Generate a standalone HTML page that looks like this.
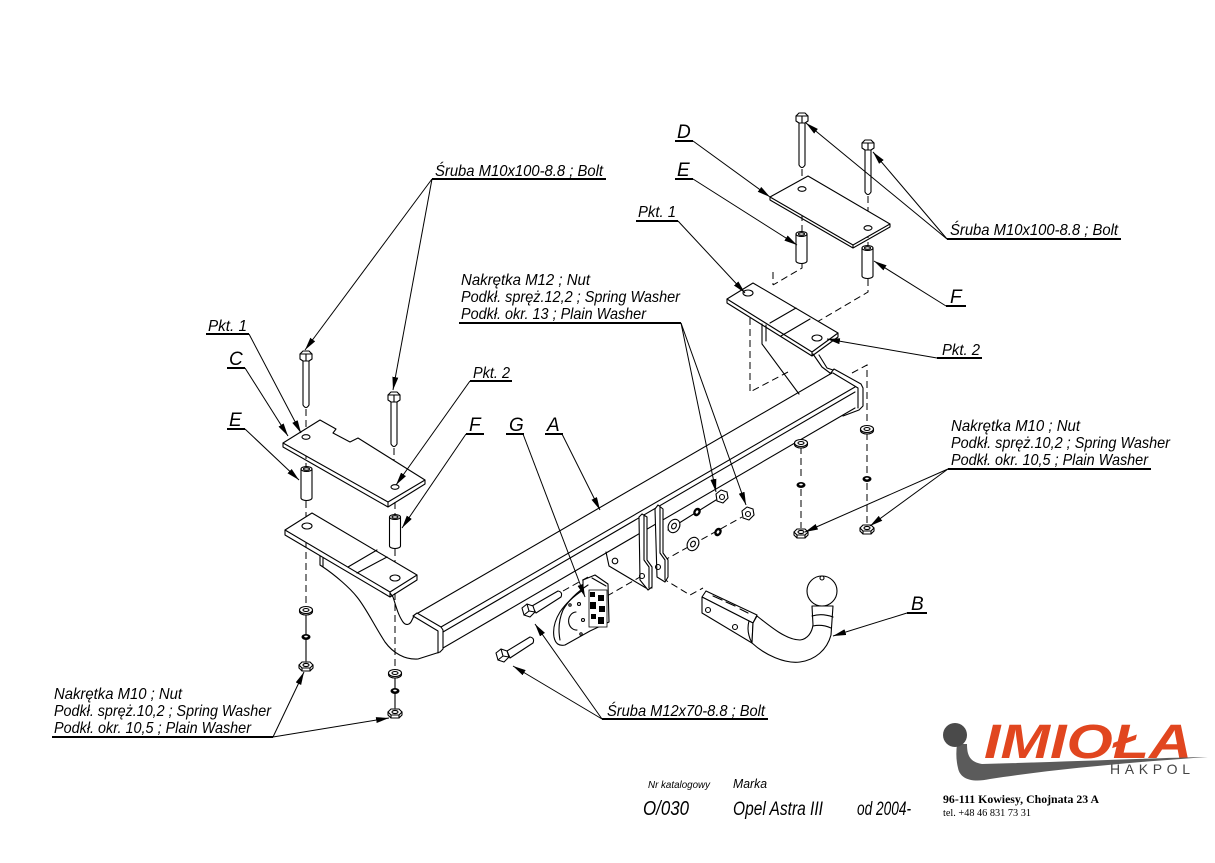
<!DOCTYPE html>
<html><head><meta charset="utf-8"><style>
html,body{margin:0;padding:0;background:#fff;}
svg{display:block;}
.t{font-family:"Liberation Sans",sans-serif;font-style:italic;fill:#000;}
.s{stroke:#000;stroke-width:1.1;fill:none;stroke-linejoin:round;stroke-linecap:round;}
.w{stroke:#000;stroke-width:1.1;fill:#fff;stroke-linejoin:round;}
.d{stroke:#000;stroke-width:1;fill:none;stroke-dasharray:7 4;}
.ld{stroke:#000;stroke-width:1;fill:none;marker-end:url(#ar);}
.ul{stroke:#000;stroke-width:2;}
.k{fill:#000;}
</style></head><body>
<svg width="1215" height="863" viewBox="0 0 1215 863" xmlns="http://www.w3.org/2000/svg">
<defs>
<marker id="ar" markerWidth="14" markerHeight="7" refX="13" refY="3" orient="auto" markerUnits="userSpaceOnUse"><path d="M0,0 L13,3 L0,6 Z" fill="#000"/></marker>
</defs>
<rect width="1215" height="863" fill="#fff"/>

<!-- dashed / axis lines -->
<path class="d" d="M306,409 V433 M306,441 V468 M306,501 V523 M306,530 V606"/>
<path class="d" d="M394,448 V485 M395,491 V516 M395,549 V575 M395,582 V669"/>
<path class="s" d="M306,613 V661 M395,677 V708"/>
<path class="d" d="M802,169 V187 M802,192 V233 M802,263 V268 L773,285 M773,272 V285"/>
<path class="d" d="M868,196 V226 M868,231 V247 M868,279 V292 L817,322 V334"/>
<path class="d" d="M750,318 V392 L788,372"/>
<path class="d" d="M852,373 L867,365 V425 M867,433 V475 M867,483 V524"/>
<path class="d" d="M801,447 V480 M801,489 V528"/>
<path class="d" d="M563,591 L588,577 M607,596 L640,577 M662,578 L690,595 L703,588 M663,561 L742,517"/>
<path class="s" d="M668,530 L716,500"/>

<!-- main beam -->
<path class="s" stroke-width="2.4" d="M418,613 L832,373"/>
<path class="s" d="M441,627 L855,387 M443,632 L855,392 M443,648 L855,408"/>
<path class="s" d="M413,616 L417,613 L441,627 L443,630 L443,649 L440,652 M413,616 L438,631 L438,653"/>
<path class="s" d="M830,374 L834,369 L861,384 L863,388 L863,406 L859,410 L843,416 M833,373 L858,388 L858,408"/>

<!-- left bracket -->
<path class="s" d="M320,556 L320,565 L323,567 M323,558 L323,567 C335,575 350,588 357,597 C366,608 374,625 385,642 C393,653 405,660 418,659 L440,652"/>
<path class="s" d="M390,593 L393,597 C396,606 398,615 403,622 C406,626 410,625 412,620 L414,616"/>
<path class="w" d="M285,530 L312,513 L417,575 L390,592 Z"/>
<path class="s" d="M285,530 L285,535 L390,597 L417,580 L417,575 M390,592 L390,597"/>
<path class="s" stroke-width="1.5" d="M348,567 L377,550 M357,573 L387,557"/>
<ellipse class="s" cx="307" cy="526" rx="5" ry="3"/>
<ellipse class="s" cx="395" cy="578" rx="5" ry="3"/>

<!-- right bracket -->
<path class="s" d="M762,324 V344 L799,394 M766,325 V341"/>
<path class="s" d="M813,354 L822,367 L830,373 M819,355 L827,368 L833,370"/>
<path class="w" d="M727,299 L753,283 L838,333 L812,352 Z"/>
<path class="s" d="M727,299 L727,303 L812,356 L838,337 L838,333 M812,352 L812,356"/>
<path class="s" stroke-width="1.5" d="M770,323 L796,308 M781,336 L810,319"/>
<ellipse class="s" cx="748" cy="293" rx="5" ry="3"/>
<ellipse class="s" cx="817" cy="338" rx="5" ry="3"/>

<!-- plate C -->
<path class="w" d="M283,443 L320,420 L336,429 L333,433 L350,442 L358,438 L425,480 L388,502 Z"/>
<path class="s" d="M283,443 L283,447 L388,507 L425,484 L425,480 M388,502 L388,507"/>
<ellipse class="s" cx="306" cy="437" rx="4" ry="2.3"/>
<ellipse class="s" cx="395" cy="487" rx="4" ry="2.3"/>

<!-- plate D -->
<path class="w" d="M770,197 L808,176 L890,224 L853,245 Z"/>
<path class="s" d="M770,197 L770,200 L853,248 L890,227 L890,224 M853,245 L853,248"/>
<ellipse class="s" cx="802" cy="189" rx="4" ry="2.3"/>
<ellipse class="s" cx="868" cy="228" rx="4" ry="2.3"/>

<!-- bolts vertical -->
<g>
<path class="w" d="M303,361 V405 Q306,410 309,405 V361"/>
<path class="w" d="M300,354 L303,351 L309,351 L312,354 L312,359 L309,361 L303,361 L300,359 Z"/>
<path class="s" d="M300,354 H312 M306,354 V361"/>
<path class="w" d="M391,402 V444 Q394,449 397,444 V402"/>
<path class="w" d="M388,395 L391,392 L397,392 L400,395 L400,400 L397,402 L391,402 L388,400 Z"/>
<path class="s" d="M388,395 H400 M394,395 V402"/>
<path class="w" d="M799,123 V165 Q802,170 805,165 V123"/>
<path class="w" d="M796,116 L799,113 L805,113 L808,116 L808,121 L805,123 L799,123 L796,121 Z"/>
<path class="s" d="M796,116 H808 M802,116 V123"/>
<path class="w" d="M865,150 V192 Q868,197 871,192 V150"/>
<path class="w" d="M862,143 L865,140 L871,140 L874,143 L874,148 L871,150 L865,150 L862,148 Z"/>
<path class="s" d="M862,143 H874 M868,143 V150"/>
</g>

<!-- spacers -->
<path class="w" d="M301,469 V498 A5.5,2.5 0 0 0 312,498 V469"/><ellipse class="w" cx="306.5" cy="469" rx="5.5" ry="2.5"/><ellipse class="s" cx="306.5" cy="469" rx="3" ry="1.3"/>
<path class="w" d="M389.5,517 V546 A5.5,2.5 0 0 0 400.5,546 V517"/><ellipse class="w" cx="395" cy="517" rx="5.5" ry="2.5"/><ellipse class="s" cx="395" cy="517" rx="3" ry="1.3"/>
<path class="w" d="M796,234 V261 A5.5,2.5 0 0 0 807,261 V234"/><ellipse class="w" cx="801.5" cy="234" rx="5.5" ry="2.5"/><ellipse class="s" cx="801.5" cy="234" rx="3" ry="1.3"/>
<path class="w" d="M862,248 V276 A5.5,2.5 0 0 0 873,276 V248"/><ellipse class="w" cx="867.5" cy="248" rx="5.5" ry="2.5"/><ellipse class="s" cx="867.5" cy="248" rx="3" ry="1.3"/>

<!-- washers / spring washers / nuts (vertical axis) -->
<g>
<path class="w" d="M299.5,610 v1.5 a6.5,3.5 0 0 0 13,0 v-1.5"/><ellipse class="w" cx="306" cy="610" rx="6.5" ry="3.5"/><ellipse class="s" cx="306" cy="610" rx="3" ry="1.5"/>
<path class="w" d="M388.5,673 v1.5 a6.5,3.5 0 0 0 13,0 v-1.5"/><ellipse class="w" cx="395" cy="673" rx="6.5" ry="3.5"/><ellipse class="s" cx="395" cy="673" rx="3" ry="1.5"/>
<path class="w" d="M794.5,443 v1.5 a6.5,3.5 0 0 0 13,0 v-1.5"/><ellipse class="w" cx="801" cy="443" rx="6.5" ry="3.5"/><ellipse class="s" cx="801" cy="443" rx="3" ry="1.5"/>
<path class="w" d="M860.5,429 v1.5 a6.5,3.5 0 0 0 13,0 v-1.5"/><ellipse class="w" cx="867" cy="429" rx="6.5" ry="3.5"/><ellipse class="s" cx="867" cy="429" rx="3" ry="1.5"/>

<ellipse class="k" cx="306" cy="637" rx="4.5" ry="3"/><ellipse fill="#fff" cx="306" cy="636.5" rx="1.8" ry="0.9"/>
<ellipse class="k" cx="395" cy="691" rx="4.5" ry="3"/><ellipse fill="#fff" cx="395" cy="690.5" rx="1.8" ry="0.9"/>
<ellipse class="k" cx="801" cy="485" rx="4.5" ry="3"/><ellipse fill="#fff" cx="801" cy="484.5" rx="1.8" ry="0.9"/>
<ellipse class="k" cx="867" cy="479" rx="4.5" ry="3"/><ellipse fill="#fff" cx="867" cy="478.5" rx="1.8" ry="0.9"/>

<path class="w" stroke-width="1.3" d="M299,665 L302,662 L310,662 L313,665 L313,668 L310,671 L302,671 L299,668 Z"/>
<path class="s" d="M299,665 L302,668 L310,668 L313,665 M302,668 V671 M310,668 V671"/><ellipse class="s" cx="306" cy="665" rx="3" ry="1.6"/>
<path class="w" stroke-width="1.3" d="M388,712 L391,709 L399,709 L402,712 L402,715 L399,718 L391,718 L388,715 Z"/>
<path class="s" d="M388,712 L391,715 L399,715 L402,712 M391,715 V718 M399,715 V718"/><ellipse class="s" cx="395" cy="712" rx="3" ry="1.6"/>
<path class="w" stroke-width="1.3" d="M794,532 L797,529 L805,529 L808,532 L808,535 L805,538 L797,538 L794,535 Z"/>
<path class="s" d="M794,532 L797,535 L805,535 L808,532 M797,535 V538 M805,535 V538"/><ellipse class="s" cx="801" cy="532" rx="3" ry="1.6"/>
<path class="w" stroke-width="1.3" d="M860,528 L863,525 L871,525 L874,528 L874,531 L871,534 L863,534 L860,531 Z"/>
<path class="s" d="M860,528 L863,531 L871,531 L874,528 M863,531 V534 M871,531 V534"/><ellipse class="s" cx="867" cy="528" rx="3" ry="1.6"/>
</g>

<!-- hitch plates -->
<path class="s" d="M606,552 L609,566 L646,588 L652,588"/>
<circle class="s" cx="615" cy="561" r="2.8"/>
<path class="w" d="M639,517 L642,514 L647,517 L647,560 L652,567 L652,587 L648,590 L640,580 Z"/>
<path class="s" d="M644,516 L644,560 L649,567 L649,588"/>
<circle class="s" cx="642" cy="576" r="2.5"/>
<path class="w" d="M655,509 L658,505 L663,509 L663,553 L668,560 L668,577 L665,582 L657,577 Z"/>
<path class="s" d="M660,507 L660,553 L665,560 L665,580"/>
<circle class="s" cx="658" cy="567" r="2.5"/>

<!-- hitch fasteners (tilted) -->
<ellipse class="w" cx="674" cy="526" rx="5.5" ry="7" transform="rotate(30 674 526)"/><ellipse class="s" cx="674" cy="526" rx="2.2" ry="3" transform="rotate(30 674 526)"/>
<ellipse class="w" cx="693" cy="544" rx="5.5" ry="7" transform="rotate(30 693 544)"/><ellipse class="s" cx="693" cy="544" rx="2.2" ry="3" transform="rotate(30 693 544)"/>
<ellipse class="k" cx="697" cy="512" rx="3.5" ry="4.5" transform="rotate(30 697 512)"/><ellipse fill="#fff" cx="697" cy="512" rx="1.2" ry="1.8" transform="rotate(30 697 512)"/>
<ellipse class="k" cx="718" cy="532" rx="3.5" ry="4.5" transform="rotate(30 718 532)"/><ellipse fill="#fff" cx="718" cy="532" rx="1.2" ry="1.8" transform="rotate(30 718 532)"/>
<polygon class="w" stroke-width="1.3" points="716,494 721,490 727,492 728,498 723,503 717,501"/><circle class="s" cx="722" cy="497" r="2.5"/>
<polygon class="w" stroke-width="1.3" points="742,511 747,507 753,509 754,515 749,520 743,518"/><circle class="s" cx="748" cy="514" r="2.5"/>

<!-- G socket bracket -->
<path class="w" d="M583,580 L595,575 L608,584 L609,622 L590,631 L565,645 Q556,647 554,637 Q552,625 560,612 Q568,600 583,590 Z"/>
<path class="s" d="M588,585 Q571,596 563,610 Q557,624 560,640 M592,578 L606,586"/>
<path class="s" d="M576,612 A7,8 0 1 0 577,630"/>
<circle class="s" cx="579" cy="604" r="1.5"/><circle class="s" cx="583" cy="620" r="1.5"/><circle class="s" cx="570" cy="605" r="1.2"/><circle class="s" cx="581" cy="634" r="1.2"/>
<rect x="589" y="590" width="18" height="37" fill="#fff" stroke="#000" stroke-width="0.8"/>
<rect class="k" x="590" y="592" width="5" height="5"/><rect class="k" x="598" y="595" width="6" height="6"/><rect class="k" x="590" y="602" width="6" height="7"/><rect class="k" x="599" y="606" width="6" height="6"/><rect class="k" x="591" y="614" width="5" height="5"/><rect class="k" x="598" y="617" width="6" height="7"/>

<!-- G bolts -->
<path class="w" d="M532,606 L558,591 Q563,592 561,597 L536,613 Z"/>
<path class="w" stroke-width="1.3" d="M522,608 L527,604 L533,606 L535,612 L530,617 L524,615 Z"/>
<path class="s" d="M527,604 L529,611 L535,612 M529,611 L524,615"/>
<path class="w" d="M507,651 L530,637 Q535,638 533,643 L510,658 Z"/>
<path class="w" stroke-width="1.3" d="M496,653 L501,649 L507,651 L509,657 L504,662 L498,660 Z"/>
<path class="s" d="M501,649 L503,656 L509,657 M503,656 L498,660"/>

<!-- hook B -->
<path class="w" d="M706,591 L757,615 L753,623 L702,597 Z"/>
<path class="w" d="M702,597 L753,623 L752,643 L702,613 Z"/>
<circle class="s" cx="708" cy="610" r="2.5"/><circle class="s" cx="735" cy="627" r="2.5"/>
<path class="s" d="M713,596 L722,600 M726,602 L735,606 M740,609 L748,613"/>
<path class="w" d="M753,623 L757,616 C772,628 787,640 800,640 C808,639 812,632 813,625 L812,606 L833,606 L831,635 C827,650 815,660 800,662 C785,664 765,655 752,643 Z"/>
<path class="s" d="M749,621 Q746,632 752,643 M812,616 Q822,613 833,617 M813,626 Q822,624 831,628"/>
<circle class="w" cx="822" cy="591" r="15"/>
<circle class="s" cx="822" cy="578" r="2"/>

<!-- labels -->
<g class="t" font-size="16">
<text x="435" y="176" textLength="168" lengthAdjust="spacingAndGlyphs">Śruba M10x100-8.8 ;  Bolt</text>
<text x="208" y="331" textLength="39" lengthAdjust="spacingAndGlyphs">Pkt. 1</text>
<text x="473" y="378" textLength="37" lengthAdjust="spacingAndGlyphs">Pkt. 2</text>
<text x="461" y="285" textLength="129" lengthAdjust="spacingAndGlyphs">Nakrętka  M12 ; Nut</text>
<text x="461" y="302" textLength="219" lengthAdjust="spacingAndGlyphs">Podkł. spręż.12,2 ; Spring Washer</text>
<text x="461" y="319" textLength="185" lengthAdjust="spacingAndGlyphs">Podkł. okr. 13 ; Plain Washer</text>
<text x="638" y="217" textLength="38" lengthAdjust="spacingAndGlyphs">Pkt. 1</text>
<text x="950" y="235" textLength="168" lengthAdjust="spacingAndGlyphs">Śruba M10x100-8.8 ;  Bolt</text>
<text x="942" y="355" textLength="38" lengthAdjust="spacingAndGlyphs">Pkt. 2</text>
<text x="951" y="431" textLength="129" lengthAdjust="spacingAndGlyphs">Nakrętka  M10 ; Nut</text>
<text x="951" y="448" textLength="219" lengthAdjust="spacingAndGlyphs">Podkł. spręż.10,2 ; Spring Washer</text>
<text x="951" y="465" textLength="197" lengthAdjust="spacingAndGlyphs">Podkł. okr. 10,5 ; Plain Washer</text>
<text x="54" y="699" textLength="128" lengthAdjust="spacingAndGlyphs">Nakrętka  M10 ; Nut</text>
<text x="54" y="716" textLength="217" lengthAdjust="spacingAndGlyphs">Podkł. spręż.10,2 ; Spring Washer</text>
<text x="54" y="733" textLength="197" lengthAdjust="spacingAndGlyphs">Podkł. okr. 10,5 ; Plain Washer</text>
<text x="607" y="716" textLength="158" lengthAdjust="spacingAndGlyphs">Śruba M12x70-8.8 ;  Bolt</text>
</g>
<g class="t" font-size="19">
<text x="229" y="365">C</text>
<text x="229" y="426">E</text>
<text x="469" y="431">F</text>
<text x="509" y="431">G</text>
<text x="547" y="431">A</text>
<text x="677" y="138">D</text>
<text x="677" y="176">E</text>
<text x="950" y="303">F</text>
<text x="911" y="610">B</text>
</g>

<!-- underlines -->
<g class="ul">
<line x1="432" y1="179" x2="606" y2="179"/>
<line x1="206" y1="334" x2="249" y2="334"/>
<line x1="227" y1="368" x2="245" y2="368"/>
<line x1="227" y1="429" x2="245" y2="429"/>
<line x1="470" y1="381" x2="512" y2="381"/>
<line x1="466" y1="434" x2="484" y2="434"/>
<line x1="506" y1="434" x2="524" y2="434"/>
<line x1="545" y1="434" x2="563" y2="434"/>
<line x1="459" y1="323" x2="681" y2="323"/>
<line x1="675" y1="141" x2="693" y2="141"/>
<line x1="675" y1="179" x2="693" y2="179"/>
<line x1="636" y1="221" x2="678" y2="221"/>
<line x1="947" y1="239" x2="1121" y2="239"/>
<line x1="946" y1="306" x2="966" y2="306"/>
<line x1="937" y1="358" x2="982" y2="358"/>
<line x1="948" y1="469" x2="1151" y2="469"/>
<line x1="52" y1="737" x2="273" y2="737"/>
<line x1="907" y1="613" x2="927" y2="613"/>
<line x1="602" y1="719" x2="768" y2="719"/>
</g>

<!-- leaders -->
<g>
<line class="ld" x1="432" y1="179" x2="305" y2="350"/>
<line class="ld" x1="432" y1="179" x2="393" y2="390"/>
<line class="ld" x1="249" y1="334" x2="301" y2="433"/>
<line class="ld" x1="245" y1="368" x2="288" y2="436"/>
<line class="ld" x1="245" y1="429" x2="299" y2="480"/>
<line class="ld" x1="470" y1="381" x2="396" y2="485"/>
<line class="ld" x1="466" y1="434" x2="402" y2="528"/>
<line class="ld" x1="523" y1="434" x2="585" y2="597"/>
<line class="ld" x1="562" y1="434" x2="600" y2="510"/>
<line class="ld" x1="681" y1="323" x2="716" y2="492"/>
<line class="ld" x1="681" y1="323" x2="746" y2="505"/>
<line class="ld" x1="693" y1="141" x2="770" y2="197"/>
<line class="ld" x1="693" y1="179" x2="797" y2="245"/>
<line class="ld" x1="678" y1="221" x2="745" y2="293"/>
<line class="ld" x1="947" y1="239" x2="806" y2="123"/>
<line class="ld" x1="947" y1="239" x2="873" y2="152"/>
<line class="ld" x1="946" y1="306" x2="874" y2="261"/>
<line class="ld" x1="937" y1="358" x2="827" y2="339"/>
<line class="ld" x1="948" y1="469" x2="805" y2="532"/>
<line class="ld" x1="948" y1="469" x2="870" y2="526"/>
<line class="ld" x1="273" y1="737" x2="304" y2="672"/>
<line class="ld" x1="273" y1="737" x2="389" y2="718"/>
<line class="ld" x1="907" y1="613" x2="833" y2="636"/>
<line class="ld" x1="602" y1="719" x2="513" y2="666"/>
<line class="ld" x1="602" y1="719" x2="535" y2="624"/>
</g>

<!-- title block -->
<g class="t">
<text x="648" y="788" font-size="10" textLength="62" lengthAdjust="spacingAndGlyphs">Nr katalogowy</text>
<text x="733" y="788" font-size="13" textLength="34" lengthAdjust="spacingAndGlyphs">Marka</text>
<text x="643" y="815" font-size="20" textLength="46" lengthAdjust="spacingAndGlyphs">O/030</text>
<text x="733" y="815" font-size="19" textLength="90" lengthAdjust="spacingAndGlyphs">Opel Astra III</text>
<text x="857" y="815" font-size="19" textLength="54" lengthAdjust="spacingAndGlyphs">od 2004-</text>
</g>

<!-- logo -->
<text x="984" y="758" font-family="Liberation Sans, sans-serif" font-weight="bold" font-style="italic" font-size="48" fill="#e1461f" textLength="208" lengthAdjust="spacingAndGlyphs">IMIOŁA</text>
<path fill="#5b5b5b" d="M957,744 L967,744 C967,754 969,762 982,764 C1060,762 1150,758 1208,757 C1150,761 1060,768 990,779 C972,783 960,779 958,768 C956,760 956,752 957,744 Z"/>
<circle cx="955" cy="735" r="12" fill="#4a4a4a"/>
<text x="1110" y="774" font-family="Liberation Sans, sans-serif" font-size="14" fill="#444" textLength="80" lengthAdjust="spacing">HAKPOL</text>
<text x="943" y="803" font-family="Liberation Serif, serif" font-weight="bold" font-size="11.5" fill="#000" textLength="156" lengthAdjust="spacingAndGlyphs">96-111 Kowiesy, Chojnata 23 A</text>
<text x="943" y="816" font-family="Liberation Serif, serif" font-size="10" fill="#000" textLength="88" lengthAdjust="spacingAndGlyphs">tel. +48 46 831 73 31</text>
</svg>
</body></html>
